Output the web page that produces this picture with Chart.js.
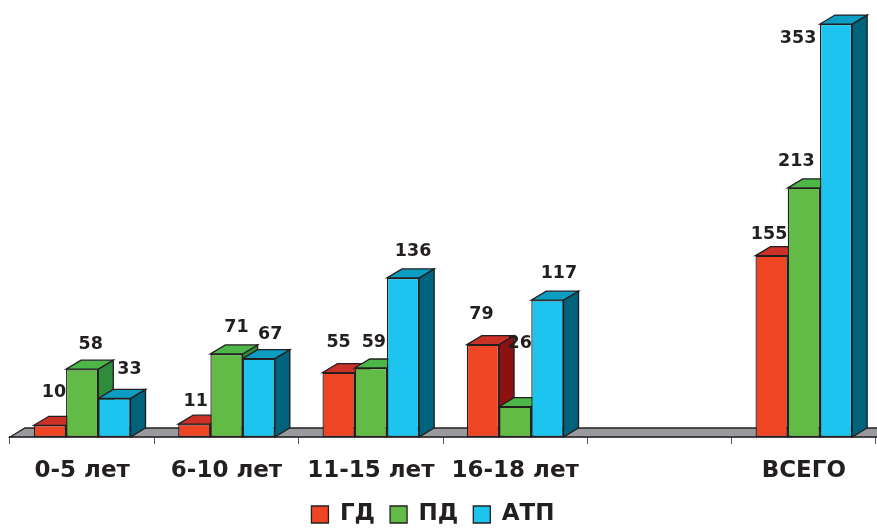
<!DOCTYPE html>
<html>
<head>
<meta charset="utf-8">
<script src="https://cdn.jsdelivr.net/npm/chart.js@4"></script>
<style>
  html, body { margin: 0; padding: 0; background: #ffffff; }
  #wrap { width: 877px; height: 528px; }
</style>
</head>
<body>
<div id="wrap"><canvas id="c" width="877" height="528"></canvas></div>
<script>
// ---- data ----
const categories = ['0-5 лет', '6-10 лет', '11-15 лет', '16-18 лет', '', 'ВСЕГО'];
const seriesNames = ['ГД', 'ПД', 'АТП'];
const gdValues  = [10, 11, 55, 79, null, 155];
const pdValues  = [58, 71, 59, 26, null, 213];
const atpValues = [33, 67, 136, 117, null, 353];

// ---- styling ----
const INK = '#231F20';
const FONT = 'DejaVu Sans';
const faces = [
  { front: '#EE4524', top: '#CB3127', side: '#8C1211' },
  { front: '#63BB47', top: '#4DB649', side: '#2F8C3D' },
  { front: '#1DC4EF', top: '#0B9DC2', side: '#00627B' }
];
const DEPTH_X = 15, DEPTH_Y = 9;
const AXIS_Y = 437;
const PAD_BOTTOM = -8;
const LEGEND_SHIFT = -10;
// label offsets (dx, dy) from the top-centre of each bar front
const labelOffsets = [
  [[4, -33], [1.5, -22.5], [0, -30], [-1.5, -30], null, [-2.5, -21.5]],
  [[8.5, -24.5], [10, -26.5], [3, -26], [4.5, -63], null, [-7.5, -26]],
  [[15, -28.5], [11.5, -24], [10, -26.5], [11.5, -26.5], null, [-38, 14]]
];

function poly(ctx, pts, fill) {
  ctx.beginPath();
  ctx.moveTo(pts[0][0], pts[0][1]);
  for (let i = 1; i < pts.length; i++) ctx.lineTo(pts[i][0], pts[i][1]);
  ctx.closePath();
  ctx.fillStyle = fill;
  ctx.fill();
  ctx.stroke();
}

const threeD = {
  id: 'threeD',
  afterLayout(chart) {
    if (chart.legend) {
      chart.legend.left += LEGEND_SHIFT;
      chart.legend.right += LEGEND_SHIFT;
    }
  },
  beforeDatasetsDraw(chart) {
    const ctx = chart.ctx;
    const a = chart.chartArea;
    ctx.save();
    ctx.lineWidth = 1.3;
    ctx.strokeStyle = INK;
    ctx.lineJoin = 'miter';
    // floor
    poly(ctx, [[a.left, a.bottom], [a.left + DEPTH_X, a.bottom - DEPTH_Y],
               [a.right + DEPTH_X + 10, a.bottom - DEPTH_Y], [a.right + 10, a.bottom]], '#9A9A9E');
    // sides and tops
    chart.data.datasets.forEach((ds, di) => {
      const meta = chart.getDatasetMeta(di);
      meta.data.forEach((el, i) => {
        if (ds.data[i] === null || ds.data[i] === undefined) return;
        const p = el.getProps(['x', 'y', 'base', 'width'], true);
        const l = p.x - p.width / 2, r = p.x + p.width / 2;
        poly(ctx, [[r, p.y], [r + DEPTH_X, p.y - DEPTH_Y], [r + DEPTH_X, p.base - DEPTH_Y], [r, p.base]], faces[di].side);
        poly(ctx, [[l, p.y], [r, p.y], [r + DEPTH_X, p.y - DEPTH_Y], [l + DEPTH_X, p.y - DEPTH_Y]], faces[di].top);
      });
    });
    ctx.restore();
  },
  afterDatasetsDraw(chart) {
    const ctx = chart.ctx;
    ctx.save();
    ctx.fillStyle = INK;
    ctx.font = 'bold 17.5px "' + FONT + '"';
    ctx.textAlign = 'center';
    ctx.textBaseline = 'middle';
    chart.data.datasets.forEach((ds, di) => {
      const meta = chart.getDatasetMeta(di);
      meta.data.forEach((el, i) => {
        const v = ds.data[i];
        if (v === null || v === undefined) return;
        const off = labelOffsets[di][i] || [6, -26];
        const p = el.getProps(['x', 'y'], true);
        ctx.fillText(String(v), p.x + off[0], p.y + off[1]);
      });
    });
    ctx.restore();
  }
};

const seriesData = [gdValues, pdValues, atpValues];

new Chart(document.getElementById('c'), {
  type: 'bar',
  data: {
    labels: categories,
    datasets: seriesNames.map((name, k) => ({
      label: name,
      data: seriesData[k],
      backgroundColor: faces[k].front,
      borderColor: INK,
      borderWidth: 1.3,
      borderSkipped: false,
      categoryPercentage: 0.67,
      barPercentage: 1.0
    }))
  },
  options: {
    responsive: false,
    animation: false,
    events: [],
    layout: { padding: { left: 10, right: 1, top: 10, bottom: PAD_BOTTOM } },
    plugins: {
      tooltip: { enabled: false },
      legend: {
        position: 'bottom',
        labels: {
          color: INK,
          boxWidth: 17,
          boxHeight: 17,
          padding: 15,
          font: { family: FONT, size: 23, weight: 'bold', lineHeight: 1.0 }
        }
      }
    },
    scales: {
      x: {
        grid: { display: true, drawOnChartArea: false, drawTicks: true, tickLength: 7, color: '#555', lineWidth: 1 },
        border: { display: true, color: INK, width: 1.3 },
        ticks: { color: INK, padding: 13, font: { family: FONT, size: 23, weight: 'bold' }, maxRotation: 0 },
        afterFit(s) {
          const lh = (s.chart.legend && s.chart.legend.height) ? s.chart.legend.height : 53;
          s.height = 528 - PAD_BOTTOM - lh - AXIS_Y;
        }
      },
      y: {
        display: false,
        min: 0,
        max: 365
      }
    }
  },
  plugins: [threeD]
});
</script>
</body>
</html>
